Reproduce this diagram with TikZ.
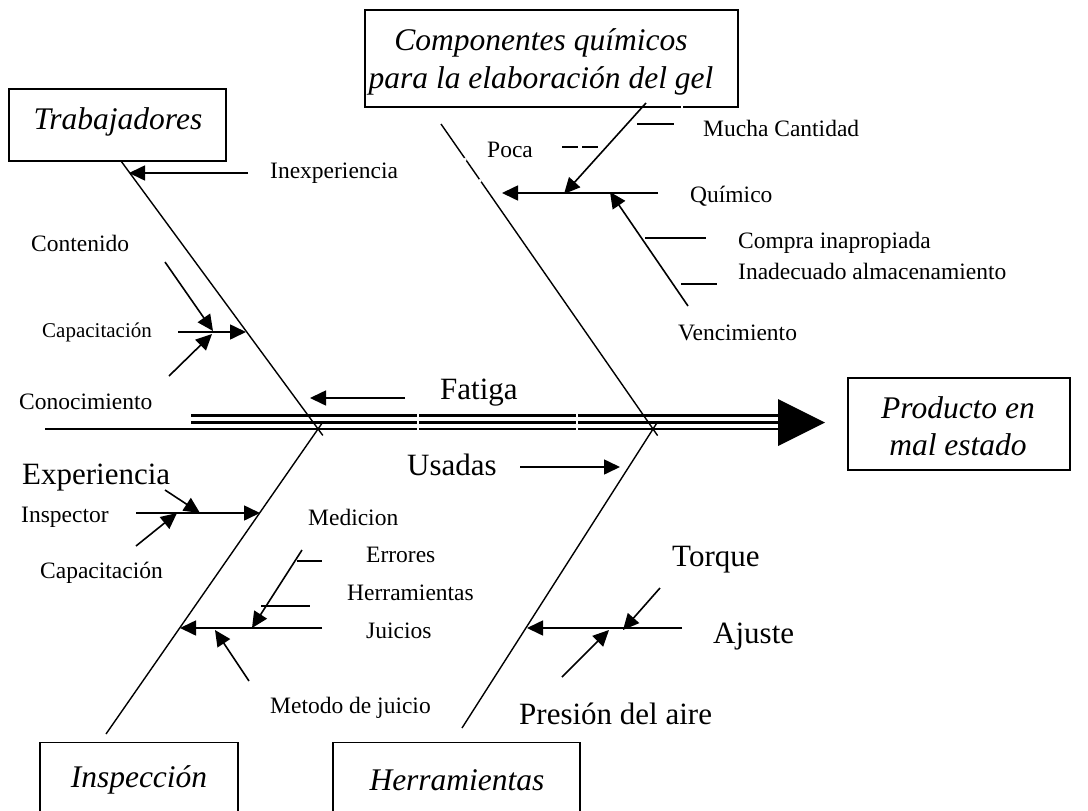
\documentclass[tikz,border=0pt]{standalone}
\usepackage{fontspec}
\setmainfont{Liberation Serif}
\usetikzlibrary{arrows.meta}
\begin{document}
\begin{tikzpicture}[x=1pt,y=-1pt,
  bone/.style={line width=1.4pt},
  arr/.style={line width=1.6pt,-{Triangle[length=16pt,width=15pt]}},
  tickln/.style={line width=1.6pt},
  lbl/.style={anchor=west,inner sep=0pt,font=\fontsize{23.5}{26}\selectfont},
  lbls/.style={anchor=west,inner sep=0pt,font=\fontsize{21}{24}\selectfont},
  lblb/.style={anchor=west,inner sep=0pt,font=\fontsize{31}{34}\selectfont},
  catbox/.style={draw,line width=1.3pt,inner sep=0pt},
  cattxt/.style={inner sep=0pt,align=center,font=\fontsize{31.5}{37.5}\selectfont\itshape},
  gap/.style={white,line width=2.5pt}
]
\useasboundingbox (0,0) rectangle (1088,811);

% ---------- category boxes ----------
\node[catbox,minimum width=217pt,minimum height=72pt] (trab) at (117.5,125) {};
\node[cattxt] (trabT) at (118,122) {Trabajadores};
\node[catbox,minimum width=373pt,minimum height=97pt] (comp) at (551.5,58.5) {};
\node[cattxt] (compT) at (541,62) {Componentes químicos\\para la elaboración del gel};
\node[catbox,minimum width=222pt,minimum height=92pt] (prod) at (959,424) {};
\node[cattxt] (prodT) at (958,426) {Producto en\\mal estado};
\node[catbox,minimum width=198pt,minimum height=120pt,anchor=north] (insp) at (139,742) {};
\node[cattxt] (inspT) at (139,780) {Inspección};
\node[catbox,minimum width=247pt,minimum height=120pt,anchor=north] (herr) at (456.5,742) {};
\node[cattxt] (herrT) at (457,780) {Herramientas};
\coordinate (bg1) at (682,105); \coordinate (bg2) at (682,109);
\draw[white,line width=2pt] (bg1) -- (bg2);

% ---------- spine ----------
\coordinate (sp0) at (45,429);
\coordinate (sp1) at (780,429);
\coordinate (st0) at (191,415.5);
\coordinate (st1) at (780,415.5);
\coordinate (sm0) at (191,422.5);
\coordinate (sm1) at (780,422.5);
\coordinate (hd1) at (778,399);
\coordinate (head) at (825,422.5);
\coordinate (hd2) at (778,446);
\draw[line width=2.2pt] (sp0) -- (sp1);
\draw[line width=2.4pt] (st0) -- (st1);
\draw[line width=3.8pt] (sm0) -- (sm1);
\fill (hd1) -- (head) -- (hd2) -- cycle;
\coordinate (g1a) at (418,411); \coordinate (g1b) at (418,432);
\coordinate (g2a) at (577,411); \coordinate (g2b) at (577,432);
\draw[white,line width=2pt] (g1a) -- (g1b);
\draw[white,line width=2pt] (g2a) -- (g2b);

% ---------- main bones ----------
\coordinate (b1a) at (121,161);   \coordinate (b1b) at (322.8,435.4);
\coordinate (b2a) at (441,124);   \coordinate (b2b) at (657.6,435.6);
\coordinate (b3a) at (106,734);   \coordinate (b3b) at (322.6,422.4);
\coordinate (b4a) at (462,728);   \coordinate (b4b) at (657.3,422.3);
\draw[bone] (b1a) -- (b1b);
\draw[bone] (b2a) -- (b2b);
\draw[bone] (b3a) -- (b3b);
\draw[bone] (b4a) -- (b4b);
\coordinate (k1a) at (464.2,158.4); \coordinate (k1b) at (465.8,160.7);
\coordinate (k2a) at (479.2,179.5); \coordinate (k2b) at (480.8,181.8);
\draw[gap] (k1a) -- (k1b);
\draw[gap] (k2a) -- (k2b);

% ---------- Trabajadores ----------
\node[lbl] (inex) at (270,173) {Inexperiencia};
\node[lbl] (cont) at (31,243) {Contenido};
\node[lbls] (capa1) at (42,332) {Capacitación};
\node[lbl] (cono) at (19,402) {Conocimiento};
\coordinate (inexS) at (248,173); \coordinate (inexT) at (129,173);
\draw[arr] (inexS) -- (inexT);
\coordinate (contS) at (165,262); \coordinate (contT) at (213,331);
\draw[arr] (contS) -- (contT);
\coordinate (conoS) at (169,376); \coordinate (conoT) at (212,334);
\draw[arr] (conoS) -- (conoT);
\coordinate (capS) at (178,332); \coordinate (capT) at (246,332);
\draw[arr] (capS) -- (capT);

% ---------- Fatiga ----------
\node[lblb] (fat) at (440,393) {Fatiga};
\coordinate (fatS) at (405,398); \coordinate (fatT) at (310,398);
\draw[arr] (fatS) -- (fatT);

% ---------- Componentes ----------
\node[lbl] (poca) at (487,150) {Poca};
\node[lbl] (much) at (703,128) {Mucha Cantidad};
\node[lbl] (quim) at (690,196) {Químico};
\node[lbl] (compra) at (738,243) {Compra inapropiada};
\node[lbl] (inad) at (738,271) {Inadecuado almacenamiento};
\node[lbl] (venc) at (678,333) {Vencimiento};
\coordinate (quS) at (658,193); \coordinate (quT) at (502,193);
\draw[arr] (quS) -- (quT);
\coordinate (cdS) at (646,103); \coordinate (cdT) at (564,194);
\draw[arr] (cdS) -- (cdT);
\coordinate (veS) at (688,306); \coordinate (veT) at (610,192);
\draw[arr] (veS) -- (veT);
\coordinate (muA) at (637,124); \coordinate (muB) at (674,124);
\draw[tickln] (muA) -- (muB);
\coordinate (poA) at (562,147); \coordinate (poB) at (598,147);
\draw[tickln,dash pattern=on 16pt off 4pt] (poA) -- (poB);
\coordinate (coA) at (645,238); \coordinate (coB) at (706,238);
\draw[tickln] (coA) -- (coB);
\coordinate (inA) at (681,284); \coordinate (inB) at (717,284);
\draw[tickln] (inA) -- (inB);

% ---------- Inspeccion ----------
\node[lblb] (expe) at (22,478) {Experiencia};
\node[lbl] (insr) at (21,517) {Inspector};
\node[lbl] (capa2) at (40,573) {Capacitación};
\node[lbl] (medi) at (308,517) {Medicion};
\node[lbl] (erro) at (366,555) {Errores};
\node[lbl] (herl) at (347,593) {Herramientas};
\node[lbl] (juic) at (366,631) {Juicios};
\node[lbl] (meto) at (270,708) {Metodo de juicio};
\coordinate (isS) at (136,513); \coordinate (isT) at (260,513);
\draw[arr] (isS) -- (isT);
\coordinate (exS) at (165,490); \coordinate (exT) at (200,513);
\draw[arr] (exS) -- (exT);
\coordinate (caS) at (136,546); \coordinate (caT) at (177,513);
\draw[arr] (caS) -- (caT);
\coordinate (juS) at (322,628); \coordinate (juT) at (180,628);
\draw[arr] (juS) -- (juT);
\coordinate (mdS) at (302,550); \coordinate (mdT) at (252,628);
\draw[arr] (mdS) -- (mdT);
\coordinate (mtS) at (249,681); \coordinate (mtT) at (215,630);
\draw[arr] (mtS) -- (mtT);
\coordinate (erA) at (297,561); \coordinate (erB) at (322,561);
\draw[tickln] (erA) -- (erB);
\coordinate (heA) at (261,606); \coordinate (heB) at (310,606);
\draw[tickln] (heA) -- (heB);

% ---------- Herramientas ----------
\node[lblb] (usad) at (407,465) {Usadas};
\node[lblb] (torq) at (672,560) {Torque};
\node[lblb] (ajus) at (713,637) {Ajuste};
\node[lblb] (pres) at (519,714) {Presión del aire};
\coordinate (usS) at (520,467); \coordinate (usT) at (620,467);
\draw[arr] (usS) -- (usT);
\coordinate (ajS) at (682,628); \coordinate (ajT) at (527,628);
\draw[arr] (ajS) -- (ajT);
\coordinate (toS) at (660,588); \coordinate (toT) at (623,630);
\draw[arr] (toS) -- (toT);
\coordinate (prS) at (562,677); \coordinate (prT) at (609,630);
\draw[arr] (prS) -- (prT);
\end{tikzpicture}
\end{document}
